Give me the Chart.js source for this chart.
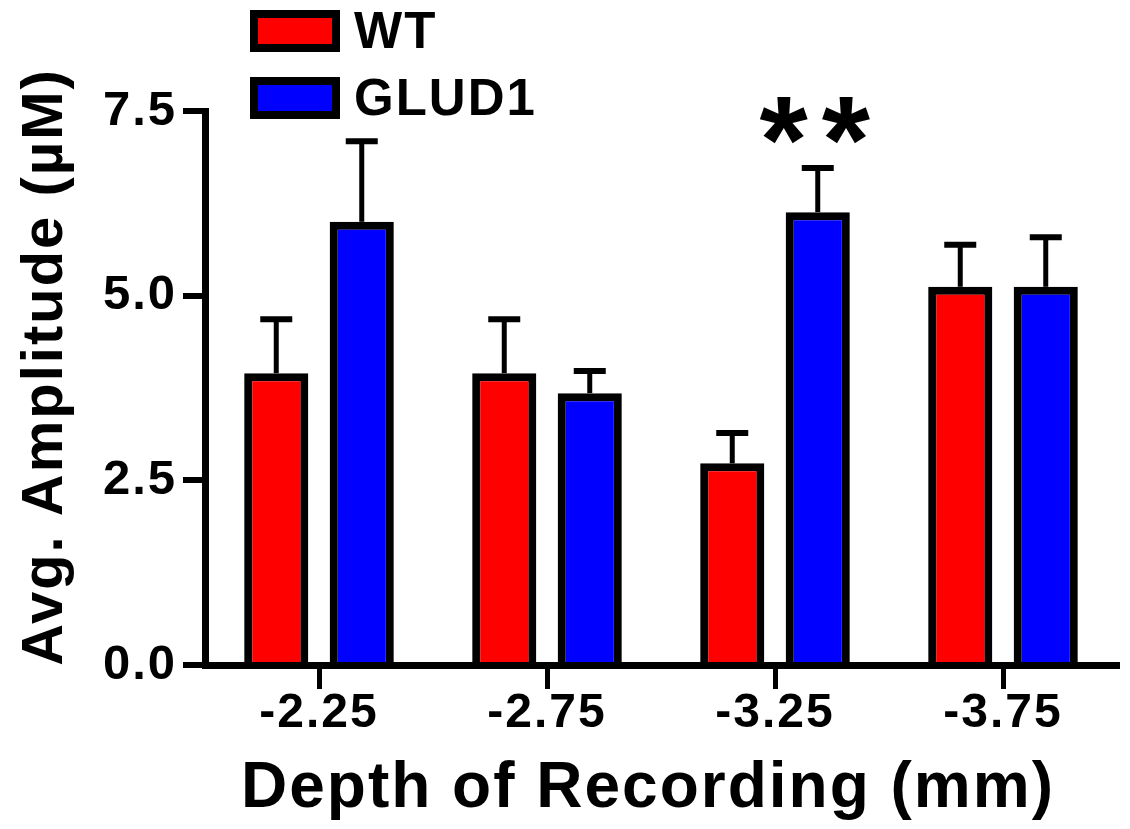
<!DOCTYPE html>
<html>
<head>
<meta charset="utf-8">
<script src="https://cdn.jsdelivr.net/npm/chart.js@4.4.1/dist/chart.umd.min.js"></script>
<style>
  html, body { margin: 0; padding: 0; background: #fff; }
  #c { display: block; }
</style>
</head>
<body>
<canvas id="c" width="1130" height="829"></canvas>
<script>
// ---- data ----
const categories = ['-2.25', '-2.75', '-3.25', '-3.75'];
const seriesNames = ['WT', 'GLUD1'];
const wtMeans = [3.95, 3.95, 2.73, 5.12];
const wtErrors = [0.73, 0.73, 0.41, 0.57];
const glud1Means = [6.00, 3.68, 6.13, 5.12];
const glud1Errors = [1.09, 0.30, 0.60, 0.67];
const glud1Significance = ['', '', '**', ''];
const yTickValues = [0, 2.5, 5.0, 7.5];
const yTickLabels = ['0.0', '2.5', '5.0', '7.5'];
const xTitle = 'Depth of Recording (mm)';
const yTitle = 'Avg. Amplitude (\u00b5M)';

const FONT = '"Liberation Sans", Arial, Helvetica, sans-serif';
const seriesColors = ['#ff0000', '#0000ff'];
const errorArrays = [wtErrors, glud1Errors];
const sigArrays = [null, glud1Significance];

const spacingPlugin = {
  id: 'letterSpacing',
  beforeInit(chart) { chart.ctx.letterSpacing = '2px'; },
  beforeUpdate(chart) { chart.ctx.letterSpacing = '2px'; },
  beforeDraw(chart) { chart.ctx.letterSpacing = '2px'; }
};

const errorBarPlugin = {
  id: 'errorBars',
  afterDatasetsDraw(chart) {
    const ctx = chart.ctx;
    const y = chart.scales.y;
    ctx.save();
    ctx.strokeStyle = '#000';
    ctx.fillStyle = '#000';
    chart.data.datasets.forEach((ds, di) => {
      const meta = chart.getDatasetMeta(di);
      const errs = errorArrays[di];
      meta.data.forEach((bar, i) => {
        const v = ds.data[i];
        const top = y.getPixelForValue(v + errs[i]);
        const base = y.getPixelForValue(v);
        ctx.lineWidth = 5;
        ctx.beginPath();
        ctx.moveTo(bar.x, base);
        ctx.lineTo(bar.x, top);
        ctx.stroke();
        ctx.lineWidth = 6;
        ctx.beginPath();
        ctx.moveTo(bar.x - 16, top);
        ctx.lineTo(bar.x + 16, top);
        ctx.stroke();
        const sig = sigArrays[di] ? sigArrays[di][i] : '';
        if (sig) {
          ctx.font = 'bold 124px ' + FONT;
          ctx.letterSpacing = '14px';
          ctx.textAlign = 'center';
          ctx.textBaseline = 'alphabetic';
          ctx.fillText(sig, bar.x + 4, top + 15);
          ctx.letterSpacing = '2px';
        }
      });
    });
    ctx.restore();
  }
};

// axis titles and legend, positioned relative to the chart area
const annotationPlugin = {
  id: 'titlesLegend',
  afterDraw(chart) {
    const ctx = chart.ctx;
    const area = chart.chartArea;
    ctx.save();
    ctx.fillStyle = '#000';
    ctx.letterSpacing = '2px';
    // x axis title
    ctx.font = 'bold 64px ' + FONT;
    ctx.textAlign = 'center';
    ctx.textBaseline = 'middle';
    ctx.fillText(xTitle, area.left + 443, 789);
    // y axis title
    ctx.save();
    ctx.translate(46, area.top + 256);
    ctx.rotate(-Math.PI / 2);
    ctx.font = 'bold 58px ' + FONT;
    ctx.textAlign = 'center';
    ctx.textBaseline = 'middle';
    ctx.fillText(yTitle, 0, 0);
    ctx.restore();
    // legend
    chart.data.datasets.forEach((ds, di) => {
      const bx = 250, by = 10 + di * 67, bw = 90, bh = 42;
      ctx.fillStyle = '#000';
      ctx.fillRect(bx, by, bw, bh);
      ctx.fillStyle = ds.backgroundColor;
      ctx.fillRect(bx + 8, by + 8, bw - 16, bh - 16);
      ctx.fillStyle = '#000';
      ctx.font = 'bold 51px ' + FONT;
      ctx.textAlign = 'left';
      ctx.textBaseline = 'alphabetic';
      ctx.fillText(ds.label, 354, by + 38);
    });
    ctx.restore();
  }
};

new Chart(document.getElementById('c'), {
  type: 'bar',
  data: {
    labels: categories,
    datasets: [
      { label: seriesNames[0], data: wtMeans, backgroundColor: seriesColors[0], borderColor: '#000', borderWidth: 8, borderSkipped: 'bottom' },
      { label: seriesNames[1], data: glud1Means, backgroundColor: seriesColors[1], borderColor: '#000', borderWidth: 8, borderSkipped: 'bottom' }
    ]
  },
  options: {
    responsive: false,
    animation: false,
    devicePixelRatio: 1,
    datasets: { bar: { categoryPercentage: 0.75, barPercentage: 0.75 } },
    layout: { padding: { top: 111, right: 13, bottom: 0, left: 0 } },
    plugins: { legend: { display: false }, tooltip: { enabled: false } },
    scales: {
      x: {
        offset: true,
        grid: { display: true, offset: false, drawOnChartArea: false, drawTicks: true, tickLength: 24, tickWidth: 5, tickColor: '#000', color: '#000', lineWidth: 5 },
        border: { display: true, color: '#000', width: 7 },
        ticks: { color: '#000', font: { family: FONT, size: 48, weight: 'bold' }, padding: -4, maxRotation: 0 },
        title: { display: false, text: xTitle },
        afterFit(s) { s.height = 164; }
      },
      y: {
        min: 0, max: 7.5,
        afterBuildTicks(s) { s.ticks = yTickValues.map(v => ({ value: v })); },
        grid: { display: true, drawOnChartArea: false, drawTicks: true, tickLength: 22, tickWidth: 6, tickColor: '#000', color: '#000', lineWidth: 6 },
        border: { display: true, color: '#000', width: 7 },
        ticks: { color: '#000', font: { family: FONT, size: 49, weight: 'bold' }, padding: 6, callback: (v, i) => yTickLabels[i] },
        title: { display: false, text: yTitle },
        afterFit(s) { s.width = 205; }
      }
    }
  },
  plugins: [spacingPlugin, errorBarPlugin, annotationPlugin]
});
</script>
</body>
</html>
